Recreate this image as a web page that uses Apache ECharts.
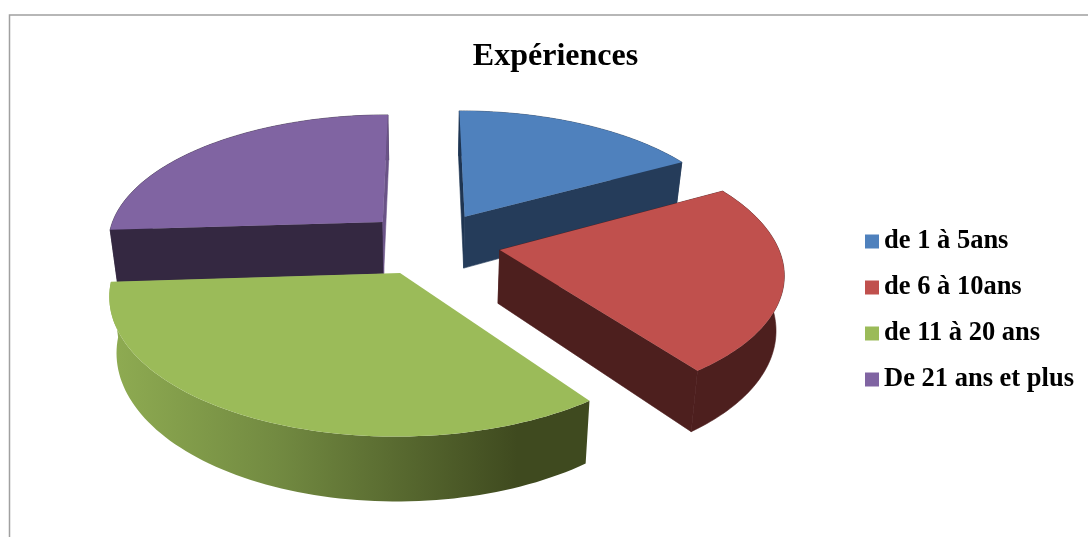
<!DOCTYPE html>
<html><head><meta charset="utf-8">
<style>html,body{margin:0;padding:0;background:#fff}#c{width:1088px;height:537px}</style>
<script src="https://cdn.jsdelivr.net/npm/echarts@6/dist/echarts.min.js"></script>
</head><body><div id="c"></div>
<script>
const categories = ["de 1 à 5ans", "de 6 à 10ans", "de 11 à 20 ans", "De 21 ans et plus"];
const values = [17, 23, 34, 26];
const colors = ["#4f81bd", "#c0504d", "#9bbb59", "#8064a2"];
const wallStart = ["#1f3552", "#4f1f1e", null, "#342841"];
const wallEnd = ["#253c5a", "#4d1f1e", null, "#6a5387"];
const wallArc = ["#253c5a", "#4d1f1e", "#3f4a1f", "#342841"];
const explode = [[0.155, -0.21], [0.275, 0.0535], [-0.08, 0.2248], [-0.149, -0.167]];
const drawOrder = [2, 3, 4, 1];

const total = values.reduce((a, b) => a + b, 0);
const cx = 423, cy = 243, S = 277, T = 129, P = 0.15, D = 53, SHRINK = 0.977;
function proj(X, Y, bottom) {
  const den = 1 - P * Y;
  let x = cx + S * X / den;
  let y = cy + T * Y / den;
  if (bottom) { x = cx + (x - cx) * SHRINK; y += D / den; }
  return [x, y];
}
function sliceRender(i) {
  return function (params, api) {
    const v = api.value(0);
    let before = 0;
    for (let k = 0; k < i; k++) before += values[k];
    const a0 = before / total * Math.PI * 2, a1 = (before + v) / total * Math.PI * 2;
    const [ox, oy] = explode[i];
    const rim = (b) => {
      const pts = [];
      const n = 80;
      for (let k = 0; k <= n; k++) {
        const a = a0 + (a1 - a0) * k / n;
        pts.push(proj(ox + Math.sin(a), oy - Math.cos(a), b));
      }
      return pts;
    };
    const topRim = rim(false), botRim = rim(true);
    const tipT = proj(ox, oy, false), tipB = proj(ox, oy, true);
    const last = topRim.length - 1;
    let arcFill = wallArc[i];
    if (i === 2) {
      arcFill = { type: 'linear', x: 0, y: 0, x2: 1, y2: 0, colorStops: [
        { offset: 0, color: '#8fac52' }, { offset: 0.35, color: '#728a41' },
        { offset: 0.85, color: '#3f4a1f' }, { offset: 1, color: '#3f4a1f' }] };
    }
    const poly = (points, fill, stroke) => ({ type: 'polygon', shape: { points }, style: { fill, stroke: stroke || null, lineWidth: stroke ? 0.6 : 0 } });
    const children = [poly(topRim.concat(botRim.slice().reverse()), arcFill, i === 2 ? null : wallArc[i])];
    if (wallStart[i]) children.push(poly([tipT, topRim[0], botRim[0], tipB], wallStart[i], wallStart[i]));
    if (wallEnd[i]) children.push(poly([tipT, topRim[last], botRim[last], tipB], wallEnd[i], wallEnd[i]));
    children.push(poly([tipT].concat(topRim), colors[i]));
    return { type: 'group', children };
  };
}
const chart = echarts.init(document.getElementById('c'), null, { renderer: 'canvas' });
chart.setOption({
  animation: false,
  backgroundColor: '#ffffff',
  title: {
    text: 'Expériences', left: 550.5, top: 36, textAlign: 'center',
    textStyle: { fontFamily: 'Liberation Serif', fontWeight: 'bold', fontSize: 32, color: '#000' }
  },
  legend: {
    orient: 'vertical', left: 860, top: 223, itemWidth: 14, itemHeight: 14, itemGap: 19,
    icon: 'rect', data: categories, selectedMode: false,
    textStyle: { fontFamily: 'Liberation Serif', fontWeight: 'bold', fontSize: 26.5, color: '#000' }
  },
  graphic: [{
    type: 'polyline', silent: true,
    shape: { points: [[9.5, 537], [9.5, 15], [1088, 15]] },
    style: { stroke: '#a0a0a0', lineWidth: 1.5, fill: null }
  }],
  series: categories.map((name, i) => ({
    type: 'custom', name, coordinateSystem: 'none', z: drawOrder[i], silent: true,
    itemStyle: { color: colors[i] },
    renderItem: sliceRender(i),
    data: [[values[i]]]
  }))
});
</script></body></html>
